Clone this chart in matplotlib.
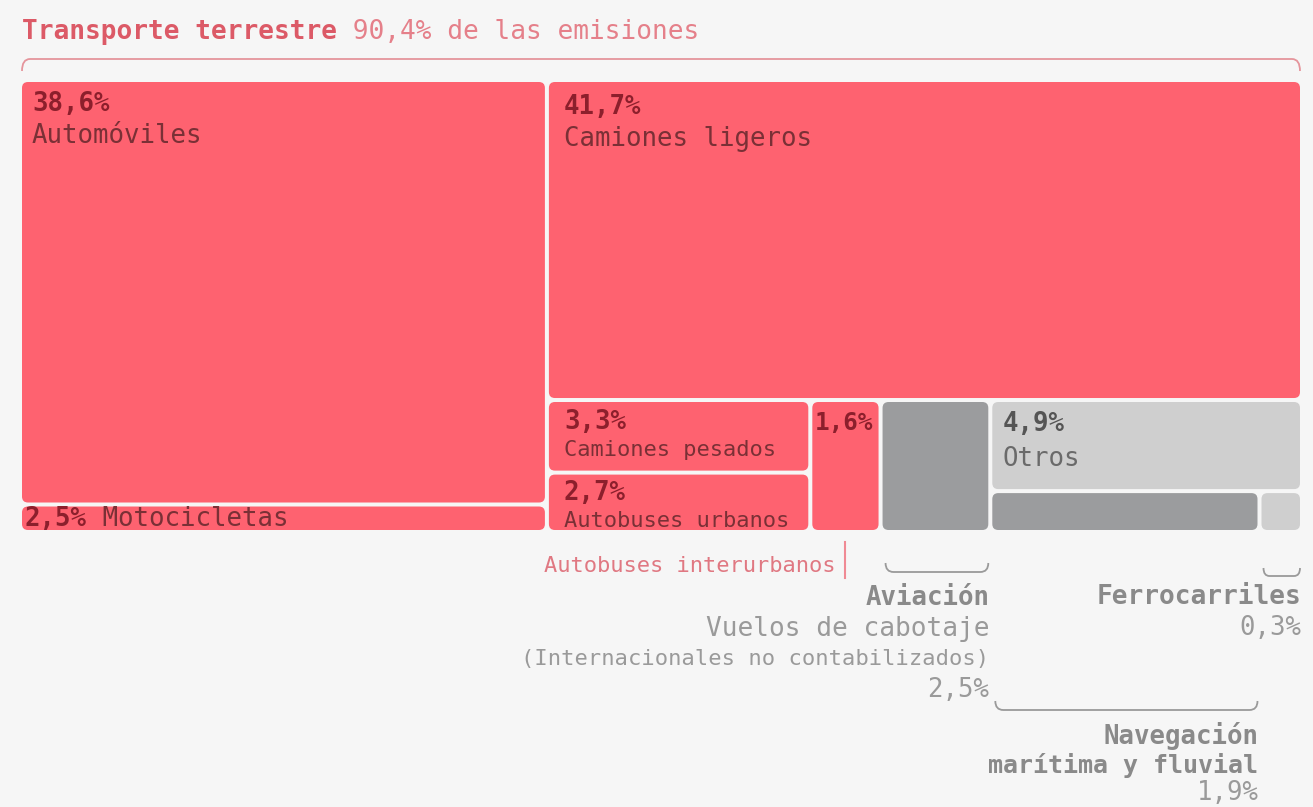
import matplotlib
matplotlib.use("Agg")
import matplotlib.pyplot as plt
from matplotlib.patches import FancyBboxPatch, PathPatch
from matplotlib.path import Path

# datos: % de emisiones del transporte
names = ["Automóviles", "Motocicletas", "Camiones ligeros", "Camiones pesados",
         "Autobuses urbanos", "Autobuses interurbanos", "Aviación", "Otros",
         "Navegación", "Ferrocarriles"]
values = [38.6, 2.5, 41.7, 3.3, 2.7, 1.6, 2.5, 4.9, 1.9, 0.3]
pct_labels = ["38,6%", "2,5%", "41,7%", "3,3%", "2,7%", "1,6%", "2,5%", "4,9%", "1,9%", "0,3%"]
title_bold = "Transporte terrestre"
title_rest = " 90,4% de las emisiones"

val = dict(zip(names, values))
pct = dict(zip(names, pct_labels))

# estructura del treemap (niveles alternan horizontal / vertical)
tree = [["Automóviles", "Motocicletas"],
        ["Camiones ligeros",
         [["Camiones pesados", "Autobuses urbanos"], "Autobuses interurbanos", "Aviación",
          ["Otros", ["Navegación", "Ferrocarriles"]]]]]

RED = "#fe6270"
DARKGREY = "#9b9c9e"
LIGHTGREY = "#cfcfcf"
BG = "#f6f6f6"
fill = {n: RED for n in names[:6]}
fill.update({"Aviación": DARKGREY, "Navegación": DARKGREY, "Otros": LIGHTGREY, "Ferrocarriles": LIGHTGREY})

MONO = "DejaVu Sans Mono"


def total(node):
    if isinstance(node, str):
        return val[node]
    return sum(total(c) for c in node)


def layout(node, x, y, w, h, horiz, out):
    if isinstance(node, str):
        out[node] = (x, y, w, h)
        return
    s = total(node)
    pos = 0
    for c in node:
        f = total(c) / s
        if horiz:
            layout(c, x + pos * w, y, f * w, h, not horiz, out)
        else:
            layout(c, x, y + pos * h, w, f * h, not horiz, out)
        pos += f


rects = {}
layout(tree, 20, 80, 1282, 452, True, rects)

fig = plt.figure(figsize=(13.13, 8.07), dpi=100)
fig.patch.set_facecolor(BG)
ax = fig.add_axes([0, 0, 1, 1])
ax.set_xlim(0, 1313)
ax.set_ylim(807, 0)
ax.axis("off")
ax.set_facecolor(BG)

gap = 2
for n in names:
    x, y, w, h = rects[n]
    ax.add_patch(FancyBboxPatch((x + gap, y + gap), w - 2 * gap, h - 2 * gap,
                                boxstyle="round,pad=0,rounding_size=6",
                                facecolor=fill[n], edgecolor="none"))

PCT_RED = "#8c1f2c"
LAB_RED = "#7a3036"

# etiquetas dentro de las celdas: (padding x, base pct, base etiqueta, tamaño etiqueta)
inside = {
    "Automóviles": (10, 29, 61, 18.5),
    "Camiones ligeros": (15, 32, 64, 18.5),
    "Camiones pesados": (15, 27, 54, 15.8),
    "Autobuses urbanos": (15, 25, 52, 15.8),
    "Otros": (10, 29, 64, 18.5),
}
for n, (px, bp, bl, fs) in inside.items():
    x, y, w, h = rects[n]
    col_p = PCT_RED if fill[n] == RED else "#555555"
    col_l = LAB_RED if fill[n] == RED else "#6a6a6a"
    ax.text(x + gap + px, y + gap + bp, pct[n], family=MONO, fontsize=18.5,
            fontweight="bold", color=col_p, va="baseline")
    ax.text(x + gap + px, y + gap + bl, n, family=MONO, fontsize=fs,
            color=col_l, va="baseline")

x, y, w, h = rects["Autobuses interurbanos"]
ax.text(x + gap + 2, y + gap + 28, pct["Autobuses interurbanos"], family=MONO,
        fontsize=17.5, fontweight="bold", color=PCT_RED, va="baseline")

x, y, w, h = rects["Motocicletas"]
t = ax.text(x + gap + 3, y + h - 6, pct["Motocicletas"], family=MONO, fontsize=18.5,
            fontweight="bold", color=PCT_RED, va="baseline")
ax.annotate(" " + "Motocicletas", xy=(1, 0), xycoords=t, family=MONO, fontsize=18.5,
            color=LAB_RED, va="bottom")

# título
t = ax.text(22, 39, title_bold, family=MONO, fontsize=18.8, fontweight="bold",
            color="#dc5a67", va="baseline")
ax.annotate(title_rest, xy=(1, 0), xycoords=t, family=MONO, fontsize=18.8,
            color="#e5808a", va="bottom")


def bracket(x0, x1, y, yend, color, r=8):
    verts = [(x0, yend), (x0, y), (x0 + r, y), (x1 - r, y), (x1, y), (x1, yend)]
    codes = [Path.MOVETO, Path.CURVE3, Path.CURVE3, Path.LINETO, Path.CURVE3, Path.CURVE3]
    ax.add_patch(PathPatch(Path(verts, codes), facecolor="none", edgecolor=color, lw=1.3))


bracket(22, 1300, 59, 71, "#e5959c")

ra = rects["Aviación"]
bracket(ra[0] + 5, ra[0] + ra[2] - 2, 572, 563, "#9a9a9a")
rf = rects["Ferrocarriles"]
bracket(rf[0] + 4, rf[0] + rf[2] - 2, 576, 568, "#9a9a9a", r=6)
rn = rects["Navegación"]
bracket(rn[0] + 5, rn[0] + rn[2] - 2, 710, 701, "#9a9a9a")

# autobuses interurbanos
ri = rects["Autobuses interurbanos"]
xi = ri[0] + 35
ax.plot([xi, xi], [542, 578], color="#f08a94", lw=1.5)
ax.text(xi - 10, 572, "Autobuses interurbanos", family=MONO, fontsize=15.8,
        color="#e07882", ha="right", va="baseline")

GREY_B = "#8a8a8a"
GREY_T = "#9a9a9a"
xa = ra[0] + ra[2] - 1
ax.text(xa, 605, "Aviación", family=MONO, fontsize=18.5, fontweight="bold",
        color=GREY_B, ha="right", va="baseline")
ax.text(xa, 636, "Vuelos de cabotaje", family=MONO, fontsize=18.8,
        color=GREY_T, ha="right", va="baseline")
ax.text(xa, 665, "(Internacionales no contabilizados)", family=MONO, fontsize=15.9,
        color=GREY_T, ha="right", va="baseline")
ax.text(xa, 697, pct["Aviación"], family=MONO, fontsize=18.5,
        color=GREY_T, ha="right", va="baseline")

xf = rf[0] + rf[2] - 1
ax.text(xf, 604, "Ferrocarriles", family=MONO, fontsize=18.8, fontweight="bold",
        color=GREY_B, ha="right", va="baseline")
ax.text(xf, 635, pct["Ferrocarriles"], family=MONO, fontsize=18.5,
        color=GREY_T, ha="right", va="baseline")

xn = rn[0] + rn[2] - 1
ax.text(xn, 744, "Navegación", family=MONO, fontsize=18.5, fontweight="bold",
        color=GREY_B, ha="right", va="baseline")
ax.text(xn, 773, "marítima y fluvial", family=MONO, fontsize=18, fontweight="bold",
        color=GREY_B, ha="right", va="baseline")
ax.text(xn, 800, pct["Navegación"], family=MONO, fontsize=18.5,
        color=GREY_T, ha="right", va="baseline")

fig.savefig("out.png", dpi=100, facecolor=BG)
